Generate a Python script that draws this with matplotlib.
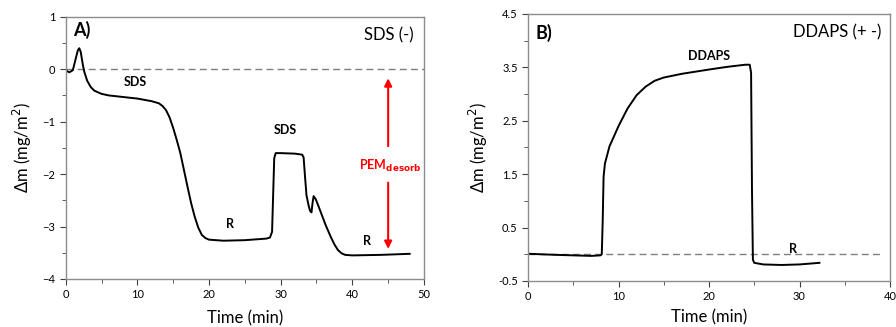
import matplotlib.pyplot as plt
import numpy as np

plt.rcParams['font.family'] = ['Lato', 'DejaVu Sans']

# panel A: SDS (-)
tA = [0, 0.5, 1.0, 1.4, 1.7, 1.9, 2.1, 2.4, 2.6, 3.0, 3.5, 4.0, 5.0, 6.0, 8.0, 10.0,
      12.0, 13.0, 13.5, 14.0, 14.5, 15.0, 15.5, 16.0, 16.5, 17.0, 17.5, 18.0, 18.5,
      19.0, 19.5, 20.0, 22.0, 25.0, 28.0, 28.5, 28.8, 28.95, 29.1, 29.3, 30.0, 32.0,
      33.0, 33.2, 33.4, 33.6, 33.9, 34.1, 34.3, 34.45, 34.6, 34.9, 35.3, 35.8, 36.3,
      37.0, 37.5, 38.0, 38.5, 39.0, 40.0, 44.0, 48.0]
mA = [-0.02, -0.06, -0.02, 0.20, 0.36, 0.40, 0.33, 0.08, -0.05, -0.22, -0.34, -0.41,
      -0.47, -0.50, -0.53, -0.56, -0.61, -0.65, -0.70, -0.78, -0.92, -1.12, -1.35,
      -1.60, -1.92, -2.24, -2.55, -2.81, -3.02, -3.16, -3.22, -3.25, -3.27, -3.26,
      -3.23, -3.21, -3.10, -2.40, -1.70, -1.60, -1.60, -1.61, -1.63, -1.68, -2.05,
      -2.40, -2.60, -2.70, -2.73, -2.55, -2.42, -2.48, -2.62, -2.80, -2.98, -3.20,
      -3.34, -3.45, -3.51, -3.54, -3.55, -3.54, -3.52]

# panel B: DDAPS (+ -)
tB = [0, 3, 5, 7, 8.0, 8.15, 8.25, 8.35, 8.5, 9.0, 10.0, 11.0, 12.0, 13.0, 14.0, 15.0,
      17.0, 20.0, 22.0, 24.0, 24.5, 24.65, 24.75, 24.85, 25.0, 26.0, 28.0, 30.0, 32.2]
mB = [0.01, -0.01, -0.02, -0.03, -0.02, 0.0, 0.60, 1.45, 1.70, 2.02, 2.40, 2.73, 2.98,
      3.14, 3.25, 3.31, 3.38, 3.46, 3.51, 3.55, 3.55, 3.40, 1.20, -0.10, -0.16, -0.19,
      -0.20, -0.19, -0.16]

fig = plt.figure(figsize=(8.96, 3.27), dpi=100)
axA = fig.add_axes([0.0733, 0.1468, 0.3999, 0.802])
axB = fig.add_axes([0.5893, 0.1407, 0.404, 0.8165])

for ax in (axA, axB):
    for s in ax.spines.values():
        s.set_color('#8c8c8c')
        s.set_linewidth(1.0)
    ax.tick_params(which='both', direction='out', colors='#404040', labelsize=8,
                   labelcolor='black')
    ax.tick_params(which='major', length=4)
    ax.tick_params(which='minor', length=3)
    ax.set_ylabel('Δm (mg/m$^2$)', fontsize=12, labelpad=6)
axA.set_xlabel('Time (min)', fontsize=12, labelpad=7)
axB.set_xlabel('Time (min)', fontsize=12, labelpad=5)

# --- A
axA.plot([0, 50], [0, 0], ls=(0, (5, 3)), color='#7f7f7f', lw=1.0)
axA.plot(tA, mA, color='black', lw=1.4)
axA.set_xlim(0, 50)
axA.set_ylim(-4, 1)
axA.set_xticks(np.arange(0, 51, 10))
axA.set_xticks(np.arange(0, 51, 5), minor=True)
axA.set_yticks(np.arange(-4, 1.1, 1))
axA.set_yticks(np.arange(-4, 1.1, 0.5), minor=True)
axA.text(1.0, 0.75, 'A)', fontsize=13, fontweight='bold', va='center')
axA.text(48.5, 0.65, 'SDS (-)', fontsize=12, ha='right', va='center')
axA.text(9.7, -0.25, 'SDS', fontsize=9, fontweight='bold', ha='center', va='center')
axA.text(30.6, -1.15, 'SDS', fontsize=9, fontweight='bold', ha='center', va='center')
axA.text(23.0, -2.95, 'R', fontsize=9, fontweight='bold', ha='center', va='center')
axA.text(42.0, -3.28, 'R', fontsize=9, fontweight='bold', ha='center', va='center')
red = '#ff0000'
axA.annotate('', xy=(45, -0.12), xytext=(45, -1.52),
             arrowprops=dict(arrowstyle='-|>', color=red, lw=1.5, mutation_scale=11))
axA.annotate('', xy=(45, -3.48), xytext=(45, -2.11),
             arrowprops=dict(arrowstyle='-|>', color=red, lw=1.5, mutation_scale=11))
axA.text(45.3, -1.84, 'PEM$_{\\mathbf{desorb}}$', fontsize=9, fontweight='bold',
         color=red, ha='center', va='center')

# --- B
axB.plot([0, 39], [0, 0], ls=(0, (5, 3)), color='#7f7f7f', lw=1.0)
axB.plot(tB, mB, color='black', lw=1.4)
axB.set_xlim(0, 40)
axB.set_ylim(-0.5, 4.5)
axB.set_xticks(np.arange(0, 41, 10))
axB.set_xticks(np.arange(0, 41, 5), minor=True)
axB.set_yticks([-0.5, 0.5, 1.5, 2.5, 3.5, 4.5])
axB.set_yticks(np.arange(-0.5, 4.6, 0.5), minor=True)
axB.set_yticklabels(['-0.5', '0.5', '1.5', '2.5', '3.5', '4.5'])
axB.text(0.8, 4.15, 'B)', fontsize=13, fontweight='bold', va='center')
axB.text(39.0, 4.15, 'DDAPS (+ -)', fontsize=12, ha='right', va='center')
axB.text(20.0, 3.72, 'DDAPS', fontsize=9, fontweight='bold', ha='center', va='center')
axB.text(29.3, 0.1, 'R', fontsize=9, fontweight='bold', ha='center', va='center')

fig.savefig('out.png', dpi=100)
